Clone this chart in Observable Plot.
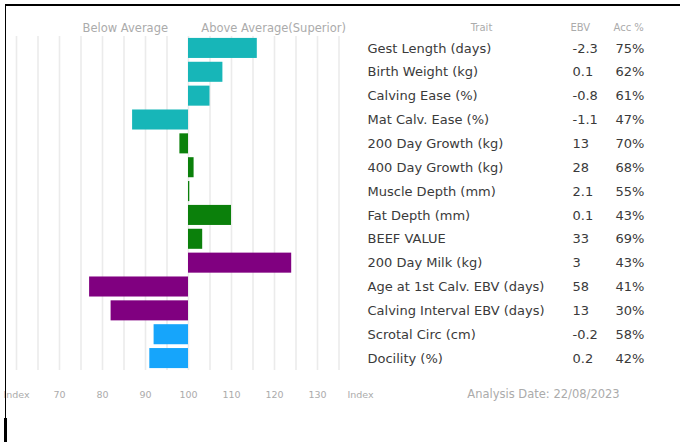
<!DOCTYPE html>
<html>
<head>
<meta charset="utf-8">
<script src="https://cdn.jsdelivr.net/npm/d3@7"></script>
<script src="https://cdn.jsdelivr.net/npm/@observablehq/plot@0.6"></script>
<style>
  html, body { margin: 0; padding: 0; background: #fff; }
  #wrap { position: relative; width: 680px; height: 442px; overflow: hidden; }
  #frame { position: absolute; left: 5px; top: 4px; width: 680px; height: 450px;
           border-top: 2px solid #000; border-left: 1.5px solid #000; box-sizing: border-box; }
  #foot { position: absolute; left: 4px; top: 418px; width: 3px; height: 30px; background: #000; }
  #chart { position: absolute; left: 0; top: 0; }
</style>
</head>
<body>
<div id="wrap"><div id="chart"></div><div id="frame"></div><div id="foot"></div></div>
<script>
const traits = ["Gest Length (days)", "Birth Weight (kg)", "Calving Ease (%)", "Mat Calv. Ease (%)",
  "200 Day Growth (kg)", "400 Day Growth (kg)", "Muscle Depth (mm)", "Fat Depth (mm)", "BEEF VALUE",
  "200 Day Milk (kg)", "Age at 1st Calv. EBV (days)", "Calving Interval EBV (days)", "Scrotal Circ (cm)", "Docility (%)"];
const indexValues = [116, 108, 105, 87, 98, 101.3, 100.3, 110, 103.3, 124, 77, 82, 92, 91];
const ebv = ["-2.3", "0.1", "-0.8", "-1.1", "13", "28", "2.1", "0.1", "33", "3", "58", "13", "-0.2", "0.2"];
const acc = ["75%", "62%", "61%", "47%", "70%", "68%", "55%", "43%", "69%", "43%", "41%", "30%", "58%", "42%"];
const groups = ["Calving", "Calving", "Calving", "Calving", "Growth", "Growth", "Growth", "Growth", "Growth",
  "Maternal", "Maternal", "Maternal", "Other", "Other"];
const groupNames = ["Calving", "Growth", "Maternal", "Other"];
const groupColors = ["#17b6b8", "#0b800b", "#800080", "#16a5fb"];
const gridTicks = [60, 65, 70, 75, 80, 85, 90, 95, 100, 105, 110, 115, 120, 125, 130, 135];
const axisTicks = [60, 70, 80, 90, 100, 110, 120, 130, 140];
const axisLabels = ["Index", "70", "80", "90", "100", "110", "120", "130", "Index"];
const sideLabels = [{x: 85.3, text: "Below Average"}, {x: 119.8, text: "Above Average(Superior)"}];
const columnHeaders = ["Trait", "EBV", "Acc %"];
const analysisDate = "Analysis Date: 22/08/2023";

const rows = traits.map((t, i) => ({trait: t, value: indexValues[i], ebv: ebv[i], acc: acc[i], group: groups[i]}));
const font = "'DejaVu Sans', sans-serif";
const gray = "#ababab";
const dark = "#3a3a3a";

const chart = Plot.plot({
  width: 680,
  height: 442,
  marginLeft: 16,
  marginRight: 320,
  marginTop: 36,
  marginBottom: 72,
  style: {fontFamily: font, background: "transparent", overflow: "visible"},
  x: {domain: [60, 140], axis: null},
  y: {domain: traits, axis: null, paddingInner: 0.16, paddingOuter: 0.08, round: false},
  color: {domain: groupNames, range: groupColors},
  marks: [
    Plot.ruleX(gridTicks, {stroke: "#ebebeb", strokeWidth: 1.6}),
    Plot.barX(rows, {x1: 100, x2: "value", y: "trait", fill: "group"}),
    // header labels
    Plot.text(sideLabels, {x: "x", text: "text", frameAnchor: "top", dy: -13, fontSize: 11.5, fill: gray}),
    Plot.text([columnHeaders[0]], {text: d => d, frameAnchor: "top-right", dx: 121, dy: -13, fontSize: 10, fill: gray, textAnchor: "middle"}),
    Plot.text([columnHeaders[1]], {text: d => d, frameAnchor: "top-right", dx: 210, dy: -13, fontSize: 10, fill: gray, textAnchor: "start"}),
    Plot.text([columnHeaders[2]], {text: d => d, frameAnchor: "top-right", dx: 253, dy: -13, fontSize: 10, fill: gray, textAnchor: "start"}),
    // table
    Plot.text(rows, {y: "trait", text: "trait", frameAnchor: "right", dx: 7, textAnchor: "start", fontSize: 13, fill: dark}),
    Plot.text(rows, {y: "trait", text: "ebv", frameAnchor: "right", dx: 212, textAnchor: "start", fontSize: 13, fill: dark}),
    Plot.text(rows, {y: "trait", text: "acc", frameAnchor: "right", dx: 255, textAnchor: "start", fontSize: 13, fill: dark}),
    // bottom axis
    Plot.text(axisTicks, {x: d => d, text: (d, i) => axisLabels[i], frameAnchor: "bottom", dy: 27, fontSize: 9.5, fill: gray}),
    Plot.text([analysisDate], {text: d => d, frameAnchor: "bottom-right", dx: 183, dy: 27, fontSize: 11.5, fill: gray, textAnchor: "middle"})
  ]
});
document.getElementById("chart").appendChild(chart);
</script>
</body>
</html>
